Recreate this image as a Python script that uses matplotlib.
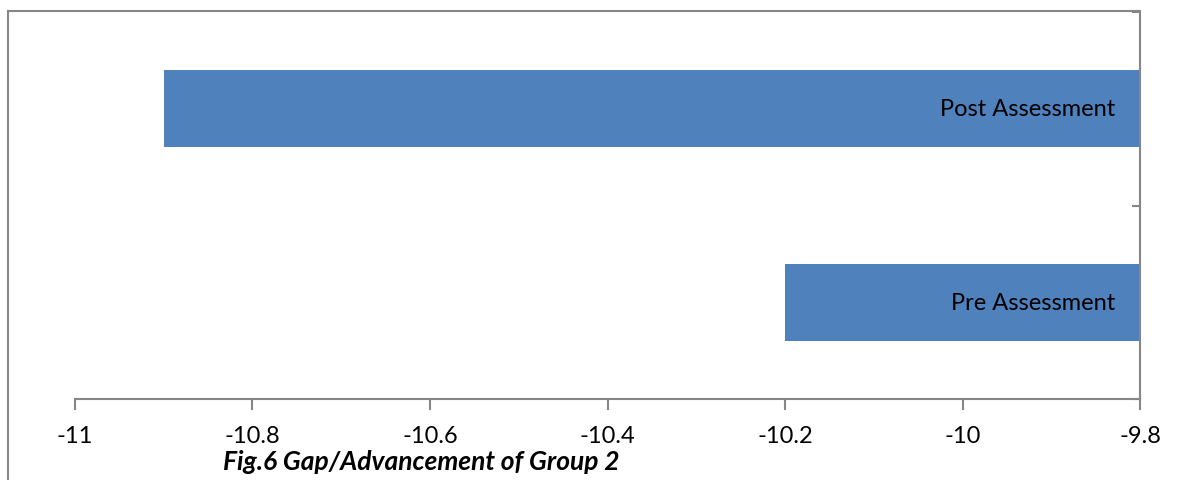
import matplotlib.pyplot as plt
from matplotlib.lines import Line2D

# Group 2 scores, bars hang from the axis crossing at -9.8
categories = ["Pre Assessment", "Post Assessment"]
values = [-10.2, -10.9]
x_ticks = [-11, -10.8, -10.6, -10.4, -10.2, -10, -9.8]
x_tick_labels = ["-11", "-10.8", "-10.6", "-10.4", "-10.2", "-10", "-9.8"]
base = -9.8

plt.rcParams['font.family'] = ['Lato', 'DejaVu Sans']
axis_grey = '#868686'
bar_blue = '#4F81BD'

W, H = 1203, 481
fig = plt.figure(figsize=(W / 100, H / 100), dpi=100)
ax = fig.add_axes([75 / W, (H - 400) / H, (1140 - 75) / W, (400 - 13) / H])

ypos = list(range(len(categories)))
ax.barh(ypos, [v - base for v in values], left=base, height=0.4, color=bar_blue)

for y, name in zip(ypos, categories):
    ax.text(base - 0.028, y, name, ha='right', va='center', fontsize=17, color='black')

ax.set_xlim(-11, -9.8)
ax.set_ylim(-0.5, 1.5)
ax.set_xticks(x_ticks)
ax.set_xticklabels(x_tick_labels, fontsize=17)
ax.set_yticks([-0.5, 0.5, 1.5])
ax.set_yticklabels([])

for side in ['left', 'top']:
    ax.spines[side].set_visible(False)
for side in ['bottom', 'right']:
    ax.spines[side].set_color(axis_grey)
    ax.spines[side].set_linewidth(1.5)

ax.yaxis.tick_right()
ax.tick_params(axis='y', direction='in', length=6, width=1.5, color=axis_grey)
ax.tick_params(axis='x', direction='out', length=8, width=1.5, color=axis_grey, pad=11)

# outer chart frame (left and top edges)
fig.add_artist(Line2D([8 / W, 8 / W], [0, (H - 12) / H], color=axis_grey, lw=1.5))
fig.add_artist(Line2D([8 / W, 1140 / W], [(H - 12) / H, (H - 12) / H], color=axis_grey, lw=1.5))

fig.text(421 / W, (H - 470) / H, "Fig.6 Gap/Advancement of Group 2", ha='center', va='baseline',
         fontsize=19, fontweight='bold', fontstyle='italic')

fig.savefig('out.png', dpi=100)
